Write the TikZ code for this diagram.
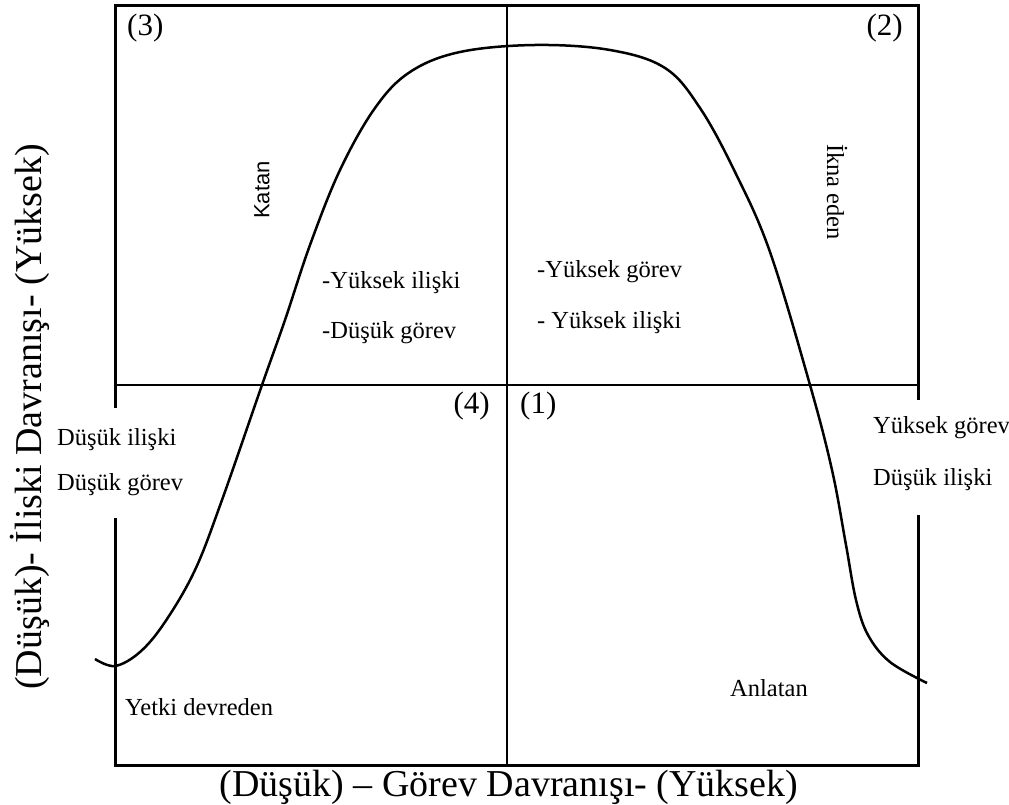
\documentclass[tikz,border=0pt]{standalone}
\usepackage{fontspec}
\setmainfont{Liberation Serif}
\newfontfamily\arialfont{Liberation Sans}
\begin{document}
\begin{tikzpicture}[x=1pt,y=-1pt,
  framel/.style={line width=3pt, line cap=rect},
  crossl/.style={line width=2pt},
  curvel/.style={line width=2.5pt, line join=round},
  blank/.style={fill=white, draw=none},
  lbl/.style={inner sep=0pt, anchor=west, font=\fontsize{24.5}{28}\selectfont},
  qnum/.style={inner sep=0pt, font=\fontsize{31}{36}\selectfont},
  axl/.style={inner sep=0pt, font=\fontsize{38}{44}\selectfont}]
\useasboundingbox (0,0) rectangle (1009,805);
% frame corners
\coordinate (tl) at (115,6);
\coordinate (tr) at (918,6);
\coordinate (bl) at (115,765);
\coordinate (br) at (918,765);
\coordinate (mt) at (507,6);
\coordinate (mb) at (507,765);
\coordinate (ml) at (115,385);
\coordinate (mr) at (918,385);
\draw[framel] (tl) -- (tr) -- (br) -- (bl) -- cycle;
\draw[crossl] (mt) -- (mb);
\draw[crossl] (ml) -- (mr);
% white label backgrounds covering the frame
\fill[blank] (45,408) rectangle (200,518);
\fill[blank] (860,400) rectangle (1009,515);
% curve
\draw[curvel] plot[smooth, tension=0.6] coordinates {
 (95,659) (115,666) (140,652) (165,622) (195,570) (222,500)
 (262,385) (285,320) (310,245) (340,170) (375,108) (410,72) (460,52)
 (535,45) (610,50) (665,68) (700,108) (735,172) (770,252)
 (810,385) (832,470) (846,545) (856,600) (868,635) (890,662) (927,683)};
% quadrant numbers
\node[qnum, anchor=west] (q3) at (127,28) {(3)};
\node[qnum, anchor=east] (q2) at (903,28) {(2)};
\node[qnum, anchor=east] (q4) at (490,406) {(4)};
\node[qnum, anchor=west] (q1) at (520,406) {(1)};
% style names
\node[inner sep=0pt, rotate=90, font=\arialfont\fontsize{22}{26}\selectfont] (katan) at (262,190) {Katan};
\node[inner sep=0pt, rotate=-90, font=\fontsize{24.5}{28}\selectfont] (ikna) at (837,192) {İkna eden};
\node[lbl] (yetki) at (125,707) {Yetki devreden};
\node[lbl] (anlatan) at (730,688) {Anlatan};
% quadrant descriptions
\node[lbl] (a1) at (322,283) {-Yüksek ilişki};
\node[lbl] (a2) at (322,333) {-Düşük görev};
\node[lbl] (b1) at (537,272) {-Yüksek görev};
\node[lbl] (b2) at (537,323) {- Yüksek ilişki};
\node[lbl] (c1) at (57,440) {Düşük ilişki};
\node[lbl] (c2) at (57,485) {Düşük görev};
\node[lbl] (d1) at (873,428) {Yüksek görev};
\node[lbl] (d2) at (873,480) {Düşük ilişki};
% axis labels
\node[axl] (xlab) at (509,787) {(Düşük) – Görev Davranışı- (Yüksek)};
\node[axl, rotate=90] (ylab) at (30,417) {(Düşük)- İliski Davranışı- (Yüksek)};
\end{tikzpicture}
\end{document}
